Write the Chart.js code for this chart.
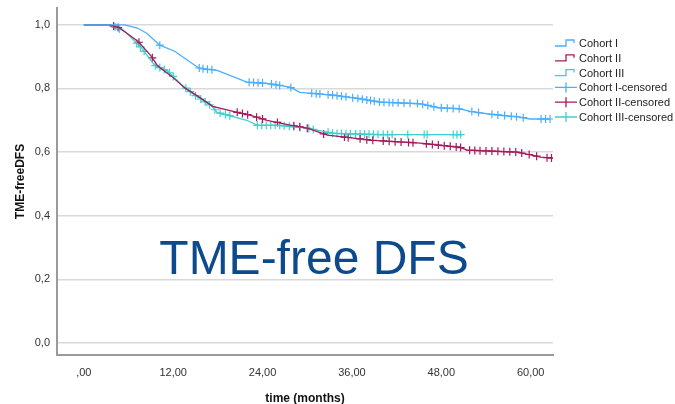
<!DOCTYPE html>
<html>
<head>
<meta charset="utf-8">
<script src="https://cdn.jsdelivr.net/npm/chart.js@4/dist/chart.umd.min.js"></script>
<style>
  html, body { margin: 0; padding: 0; background: #fff; }
  #wrap { position: relative; width: 675px; height: 404px; }
  #bigTitle {
    position: absolute; left: 66px; width: 496px; top: 230px;
    text-align: center; font-family: "Liberation Sans", Arial, sans-serif;
    font-size: 48px; color: #0d4a8d; line-height: 56px; pointer-events: none;
  }
</style>
</head>
<body>
<div id="wrap">
  <canvas id="km-chart" width="675" height="404"></canvas>
  <div id="bigTitle">TME-free DFS</div>
</div>
<script>
// Kaplan-Meier curves (months, survival)
const cohort1Time = [0, 5.5, 7.2, 8.5, 10.2, 12.2, 14.9, 15.6, 17.9, 21.9, 24.6, 27.7, 29.0, 33.5, 36.7, 39.8, 45.2, 47.4, 50.5, 51.9, 54.6, 58.6, 59.9, 62.6]
const cohort1Surv = [1.0, 1.0, 0.99, 0.973, 0.936, 0.917, 0.873, 0.863, 0.857, 0.820, 0.816, 0.804, 0.788, 0.779, 0.769, 0.757, 0.752, 0.740, 0.736, 0.728, 0.719, 0.710, 0.704, 0.704]

const cohort2Time = [0, 3.5, 4.8, 7.3, 9.1, 9.9, 11.8, 13.6, 15.3, 17.3, 20.6, 22.3, 24.6, 27.7, 30.0, 32.7, 36.2, 38.8, 45.2, 50.5, 51.5, 58.2, 60.3, 61.3, 63.0]
const cohort2Surv = [1.0, 1.0, 0.99, 0.948, 0.900, 0.871, 0.838, 0.801, 0.776, 0.744, 0.725, 0.716, 0.700, 0.685, 0.675, 0.653, 0.644, 0.637, 0.628, 0.615, 0.606, 0.600, 0.590, 0.584, 0.581]

const cohort3Time = [0, 3.5, 5.5, 7.8, 9.5, 11.3, 13.2, 14.9, 17.2, 17.9, 21.9, 23.3, 26.3, 30.0, 33.5, 39.8, 50.9]
const cohort3Surv = [1.0, 1.0, 0.980, 0.926, 0.873, 0.854, 0.810, 0.779, 0.744, 0.725, 0.700, 0.684, 0.684, 0.675, 0.659, 0.655, 0.655]

// censored times (months)
const cohort1Cens = [10.2, 15.5, 16.0, 16.6, 17.2, 22.2, 22.8, 23.4, 24.0, 25.2, 25.8, 26.3, 27.8, 30.6, 31.2, 31.7, 32.8, 33.4, 34.0, 34.6, 35.2, 36.1, 36.8, 37.4, 38.0, 38.5, 39.0, 39.7, 40.3, 41.0, 41.5, 42.2, 43.0, 43.8, 44.8, 45.5, 46.2, 47.0, 48.0, 48.8, 49.6, 50.4, 52.1, 53.0, 54.8, 55.6, 56.5, 57.4, 58.1, 59.0, 61.4, 62.0, 62.6]
const cohort2Cens = [4.0, 4.6, 7.4, 9.2, 20.6, 21.3, 22.0, 23.2, 24.0, 26.0, 28.2, 29.0, 30.0, 32.2, 35.0, 35.5, 37.1, 38.0, 38.8, 40.2, 41.0, 41.8, 42.6, 43.6, 44.2, 46.0, 46.8, 47.6, 48.4, 49.2, 50.0, 50.6, 51.8, 52.5, 53.2, 54.0, 54.8, 55.6, 56.4, 57.2, 58.0, 58.8, 59.8, 60.8, 62.2, 62.8]
const cohort3Cens = [4.2, 4.8, 7.1, 7.6, 8.1, 9.6, 10.2, 10.8, 11.5, 12.0, 13.7, 14.3, 15.0, 15.7, 16.3, 16.9, 17.6, 18.3, 19.0, 19.6, 23.3, 23.9, 24.5, 25.1, 25.7, 26.3, 26.9, 27.6, 28.2, 29.0, 30.2, 30.8, 32.8, 33.4, 34.0, 34.6, 35.2, 35.8, 36.5, 37.1, 37.7, 38.3, 38.9, 39.5, 40.2, 40.8, 41.4, 43.5, 45.7, 46.1, 49.6, 50.1, 50.6]

const xTicks = [0, 12, 24, 36, 48, 60]
const yTicks = [0, 0.2, 0.4, 0.6, 0.8, 1.0]

const color1 = "#4aaeff"
const color2 = "#a51a5c"
const color3 = "#3fd0cc"

// position of a censored mark on the drawn curve
function survAt(times, surv, t) {
    for (let i = 1; i < times.length; i++) {
        if (t <= times[i]) {
            const f = (t - times[i - 1]) / (times[i] - times[i - 1])
            return surv[i - 1] + f * (surv[i] - surv[i - 1])
        }
    }
    return surv[surv.length - 1]
}

function curve(times, surv) {
    return times.map((t, i) => ({ x: t, y: surv[i] }))
}

function censored(cens, times, surv) {
    return cens.map(t => ({ x: t, y: survAt(times, surv, t) }))
}

function lineSet(label, data, color) {
    return {
        label: label, data: data, borderColor: color, backgroundColor: color,
        borderWidth: 1.3, tension: 0, pointRadius: 0, fill: false, kind: 'line'
    }
}

function crossSet(label, data, color) {
    return {
        label: label, data: data, borderColor: color, backgroundColor: color,
        showLine: false, pointStyle: 'cross', pointRadius: 4, pointBorderWidth: 1.2,
        pointHoverRadius: 4, kind: 'cross'
    }
}

// legend drawn at the right like SPSS
const legendPlugin = {
    id: 'kmLegend',
    afterDraw(chart) {
        const ctx = chart.ctx
        const x0 = 555
        let y = 43
        ctx.save()
        ctx.font = '11px "Liberation Sans", Arial, sans-serif'
        ctx.textBaseline = 'middle'
        chart.data.datasets.forEach(ds => {
            ctx.strokeStyle = ds.borderColor
            ctx.lineWidth = 1.3
            ctx.beginPath()
            if (ds.kind === 'line') {
                ctx.moveTo(x0, y + 3)
                ctx.lineTo(x0 + 11, y + 3)
                ctx.lineTo(x0 + 11, y - 3)
                ctx.lineTo(x0 + 19, y - 3)
                ctx.lineTo(x0 + 19, y)
            } else {
                ctx.moveTo(x0, y)
                ctx.lineTo(x0 + 22, y)
                ctx.moveTo(x0 + 11, y - 5)
                ctx.lineTo(x0 + 11, y + 5)
            }
            ctx.stroke()
            ctx.fillStyle = '#222'
            ctx.fillText(ds.label, x0 + 24, y + 1)
            y += 14.8
        })
        ctx.restore()
    }
}

new Chart(document.getElementById('km-chart').getContext('2d'), {
    type: 'line',
    data: {
        datasets: [
            lineSet('Cohort I', curve(cohort1Time, cohort1Surv), color1),
            lineSet('Cohort II', curve(cohort2Time, cohort2Surv), color2),
            lineSet('Cohort III', curve(cohort3Time, cohort3Surv), color3),
            crossSet('Cohort I-censored', censored(cohort1Cens, cohort1Time, cohort1Surv), color1),
            crossSet('Cohort II-censored', censored(cohort2Cens, cohort2Time, cohort2Surv), color2),
            crossSet('Cohort III-censored', censored(cohort3Cens, cohort3Time, cohort3Surv), color3)
        ]
    },
    options: {
        responsive: false,
        animation: false,
        layout: { padding: { top: 8, right: 122, left: 0, bottom: 0 } },
        plugins: { legend: { display: false }, tooltip: { enabled: false } },
        scales: {
            x: {
                type: 'linear', min: -3.6, max: 63,
                afterBuildTicks: axis => { axis.ticks = xTicks.map(v => ({ value: v })) },
                afterFit: axis => { axis.height = 49; axis.paddingLeft = 0; axis.paddingRight = 0 },
                grid: { color: 'transparent', drawTicks: false },
                border: { color: '#9a9a9a', width: 2 },
                ticks: {
                    padding: 11, color: '#333',
                    font: { family: '"Liberation Sans", Arial, sans-serif', size: 11 },
                    callback: v => v === 0 ? ',00' : v.toFixed(2).replace('.', ',')
                },
                title: {
                    display: true, text: 'time (months)', color: '#111',
                    font: { family: '"Liberation Sans", Arial, sans-serif', size: 12, weight: 'bold' },
                    padding: { top: 0, bottom: -2 }
                }
            },
            y: {
                type: 'linear', min: -0.038, max: 1.053,
                afterBuildTicks: axis => { axis.ticks = yTicks.map(v => ({ value: v })) },
                afterFit: axis => { axis.width = 57; axis.paddingTop = 0; axis.paddingBottom = 0 },
                grid: { color: '#d9d9d9', lineWidth: 1.5, drawTicks: false },
                border: { color: '#9a9a9a', width: 2 },
                ticks: {
                    padding: 7, color: '#333',
                    font: { family: '"Liberation Sans", Arial, sans-serif', size: 11 },
                    callback: v => v.toFixed(1).replace('.', ',')
                },
                title: {
                    display: true, text: 'TME-freeDFS', color: '#111',
                    font: { family: '"Liberation Sans", Arial, sans-serif', size: 12, weight: 'bold' },
                    padding: { top: 13, bottom: 0 }
                }
            }
        }
    },
    plugins: [legendPlugin]
});
</script>
</body>
</html>
